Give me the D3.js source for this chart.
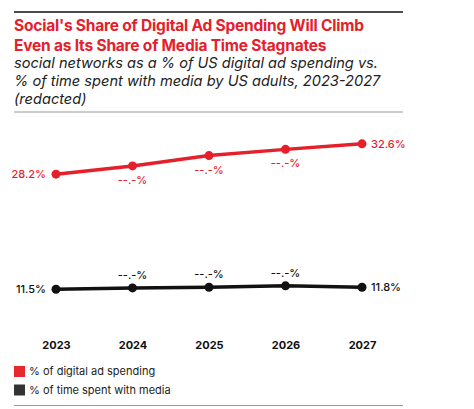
<!DOCTYPE html>
<html>
<head>
<meta charset="utf-8">
<script src="https://cdn.jsdelivr.net/npm/d3@7"></script>
<style>
  body { margin: 0; background: #fff; }
  text { font-family: "Inter", "Roboto", sans-serif; }
</style>
</head>
<body>
<div class="chart"></div>
<script>
var years = ["2023", "2024", "2025", "2026", "2027"];
var adSpending = [28.2, 29.4, 30.9, 31.8, 32.6];
var timeSpent = [11.5, 11.7, 11.8, 12.0, 11.8];
var adLabels = ["28.2%", "--.-%", "--.-%", "--.-%", "32.6%"];
var timeLabels = ["11.5%", "--.-%", "--.-%", "--.-%", "11.8%"];
var legendNames = ["% of digital ad spending", "% of time spent with media"];

var svgWidth = 474;
var svgHeight = 409;
var red = "#e5202b";
var black = "#111";

var svg = d3.select(".chart")
  .append("svg")
  .attr("width", svgWidth)
  .attr("height", svgHeight);

// header rules and titles
svg.append("line")
  .attr("x1", 14).attr("x2", 403).attr("y1", 12).attr("y2", 12)
  .attr("stroke", "#111").attr("stroke-width", 1.5);

var titleLines = ["Social's Share of Digital Ad Spending Will Climb", "Even as Its Share of Media Time Stagnates"];
svg.selectAll(".title")
  .data(titleLines)
  .enter()
  .append("text")
  .attr("class", "title")
  .attr("x", 14)
  .attr("y", (d, i) => 31 + i * 20)
  .attr("fill", red)
  .attr("font-size", "15.5px")
  .attr("font-weight", 700)
  .attr("letter-spacing", "-0.2px")
  .text(d => d);

var subLines = ["social networks as a % of US digital ad spending vs.", "% of time spent with media by US adults, 2023-2027", "(redacted)"];
svg.selectAll(".sub")
  .data(subLines)
  .enter()
  .append("text")
  .attr("class", "sub")
  .attr("x", 14)
  .attr("y", (d, i) => 68 + i * 18)
  .attr("fill", "#222")
  .attr("font-size", "14.6px")
  .attr("font-style", "italic")
  .text(d => d);

svg.append("line")
  .attr("x1", 14).attr("x2", 403).attr("y1", 112).attr("y2", 112)
  .attr("stroke", "#999").attr("stroke-width", 1);

// scales
var x = d3.scalePoint()
  .domain(years)
  .range([56, 362]);

var y = d3.scaleLinear()
  .domain([10, 33])
  .range([299.6, 141.1]);

var series = [
  { values: adSpending, labels: adLabels, color: red, midDy: 18 },
  { values: timeSpent, labels: timeLabels, color: black, midDy: -9 }
];

var line = d3.line()
  .x((d, i) => x(years[i]))
  .y(d => y(d));

series.forEach(function(s) {
  var g = svg.append("g");

  g.append("path")
    .datum(s.values)
    .attr("fill", "none")
    .attr("stroke", s.color)
    .attr("stroke-width", 3.5)
    .attr("d", line);

  g.selectAll("circle")
    .data(s.values)
    .enter()
    .append("circle")
    .attr("cx", (d, i) => x(years[i]))
    .attr("cy", d => y(d))
    .attr("r", 4.5)
    .attr("fill", s.color);

  g.selectAll("text")
    .data(s.values)
    .enter()
    .append("text")
    .attr("x", function(d, i) {
      if (i === 0) return x(years[i]) - 10;
      if (i === years.length - 1) return x(years[i]) + 9;
      return x(years[i]);
    })
    .attr("y", function(d, i) {
      if (i === 0 || i === years.length - 1) return y(d) + 4;
      return y(d) + s.midDy;
    })
    .attr("text-anchor", function(d, i) {
      if (i === 0) return "end";
      if (i === years.length - 1) return "start";
      return "middle";
    })
    .attr("fill", s.color)
    .attr("font-size", "11px")
    .attr("font-weight", 500)
    .text((d, i) => s.labels[i]);
});

// x axis labels
var xAxis = d3.axisBottom(x).tickSize(0).tickPadding(0);
svg.append("g")
  .attr("transform", "translate(0, 341)")
  .call(xAxis)
  .call(g => g.select(".domain").remove())
  .selectAll("text")
  .attr("fill", "#111")
  .attr("font-size", "11px")
  .attr("font-weight", 700)
  .attr("font-family", "Inter, Roboto, sans-serif");

// legend
var legend = svg.selectAll(".legend")
  .data(legendNames)
  .enter()
  .append("g")
  .attr("class", "legend")
  .attr("transform", (d, i) => `translate(14, ${366 + i * 18.5})`);

legend.append("rect")
  .attr("width", 11)
  .attr("height", 11)
  .attr("fill", (d, i) => i === 0 ? "#e8282f" : "#333");

legend.append("text")
  .attr("x", 15)
  .attr("y", 9)
  .attr("fill", "#222")
  .attr("font-size", "11px")
  .text(d => d);

svg.append("line")
  .attr("x1", 14).attr("x2", 403).attr("y1", 405.5).attr("y2", 405.5)
  .attr("stroke", "#999").attr("stroke-width", 1);
</script>
</body>
</html>
